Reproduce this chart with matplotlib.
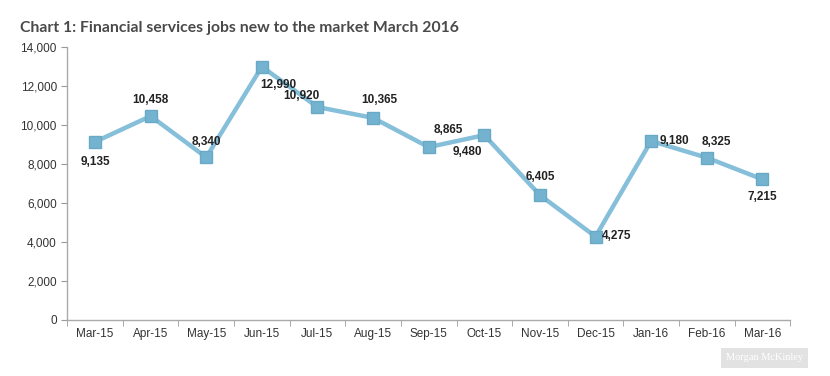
import matplotlib.pyplot as plt
import matplotlib.ticker as mticker

months = ['Mar-15', 'Apr-15', 'May-15', 'Jun-15', 'Jul-15', 'Aug-15', 'Sep-15',
          'Oct-15', 'Nov-15', 'Dec-15', 'Jan-16', 'Feb-16', 'Mar-16']
jobs = [9135, 10458, 8340, 12990, 10920, 10365, 8865, 9480, 6405, 4275, 9180, 8325, 7215]
# label offsets (pixels) chosen to mimic the original placement
offsets = [(0, -20), (0, 16), (0, 15), (16, -18), (-16, 11), (6, 18), (20, 17),
           (-17, -17), (0, 18), (21, 1), (23, 0), (10, 16), (0, -18)]

plt.rcParams['font.family'] = ['Liberation Sans', 'DejaVu Sans']

fig = plt.figure(figsize=(8.3, 3.76), dpi=100)
ax = fig.add_axes([0.081, 0.149, 0.871, 0.726])

x = range(len(months))
ax.plot(x, jobs, color='#85bfd9', linewidth=3.2, marker='s', markersize=8,
        markerfacecolor='#74b3d0', markeredgecolor='#6aa9c6', zorder=3)

for i, (v, off) in enumerate(zip(jobs, offsets)):
    ax.annotate(f"{v:,}", xy=(i, v), xytext=off, textcoords='offset pixels',
                ha='center', va='center', fontsize=8.5, fontweight='bold',
                color='#222222')

ax.set_xlim(-0.5, len(months) - 0.5)
ax.set_ylim(0, 14000)
ax.set_yticks(range(0, 14001, 2000))
ax.yaxis.set_major_formatter(mticker.FuncFormatter(lambda v, _: f"{v:,.0f}"))
ax.set_xticks(list(x))
ax.set_xticklabels(months)
ax.set_xticks([i + 0.5 for i in range(-1, len(months))], minor=True)
ax.tick_params(axis='x', which='major', length=0, pad=6, labelsize=8.5, colors='#333333')
ax.tick_params(axis='x', which='minor', length=4, color='#999999')
ax.tick_params(axis='y', length=4, color='#999999', labelsize=8.5, colors='#333333')

for s in ['top', 'right']:
    ax.spines[s].set_visible(False)
for s in ['left', 'bottom']:
    ax.spines[s].set_color('#aaaaaa')
    ax.spines[s].set_linewidth(1)

fig.text(0.024, 0.915, "Chart 1: Financial services jobs new to the market March 2016",
         fontsize=11.3, fontweight='bold', color='#4a4a4a', family=['Lato', 'DejaVu Sans'])

fig.text(0.921, 0.048, "Morgan McKinley", fontsize=7.5, color='white', ha='center',
         va='center', family=['Liberation Serif', 'DejaVu Serif'],
         bbox=dict(boxstyle='square,pad=0.5', facecolor='#e2e2e2', edgecolor='none'))

fig.savefig('out.png', dpi=100)
